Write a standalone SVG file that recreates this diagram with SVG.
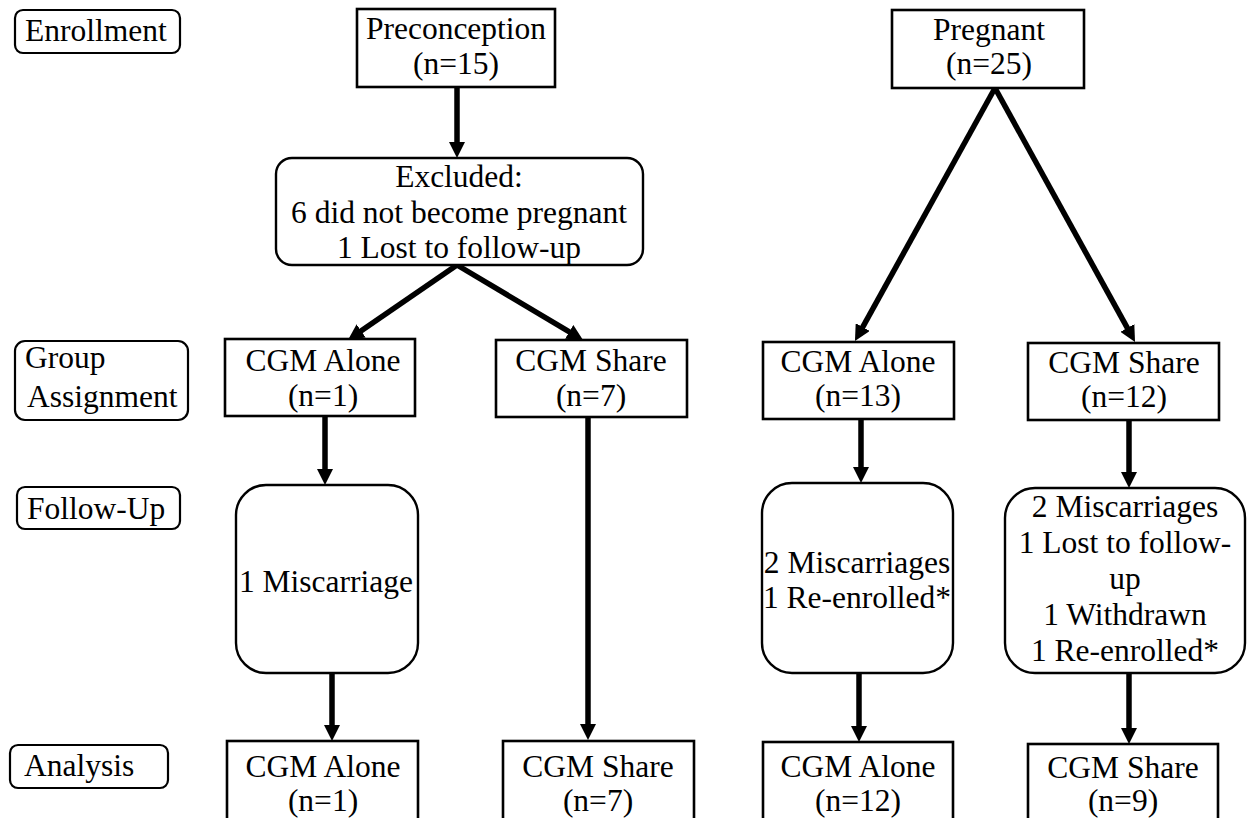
<svg xmlns="http://www.w3.org/2000/svg" width="1250" height="818" viewBox="0 0 1250 818">
<style>
text{font-family:'Liberation Serif','DejaVu Serif',serif;font-size:31.5px;fill:#000}
.c{text-anchor:middle}
.box{fill:#fff;stroke:#000;stroke-width:2.6}
.rbox{fill:#fff;stroke:#000;stroke-width:2.4}
.lab{fill:#fff;stroke:#000;stroke-width:2.2}
.arr{fill:none;stroke:#000;stroke-width:5.5;marker-end:url(#ah)}
</style>
<defs>
<marker id="ah" markerUnits="userSpaceOnUse" viewBox="0 0 16 16" markerWidth="16" markerHeight="16" refX="6" refY="8" orient="auto">
<path d="M0,0 L16,8 L0,16 z" fill="#000"/>
</marker>
</defs>
<rect width="1250" height="818" fill="#fff"/>
<g id="connectors">
<path class="arr" d="M457,87 L457,148"/>
<path class="arr" d="M457,265 L356.2,334.3"/>
<path class="arr" d="M457,265 L574.4,334.9"/>
<path class="arr" d="M995,88 L859.8,332.3"/>
<path class="arr" d="M995,88 L1130.2,333.2"/>
<path class="arr" d="M325,417 L325,475"/>
<path class="arr" d="M588,417 L588,730"/>
<path class="arr" d="M861,419 L861,473"/>
<path class="arr" d="M1129,420 L1129,478"/>
<path class="arr" d="M332,673 L332,731"/>
<path class="arr" d="M859,673 L859,732"/>
<path class="arr" d="M1129,673 L1129,734"/>
</g>
<g id="label-enrollment"><rect class="lab" x="15" y="10" width="165" height="43" rx="8"/><text x="25" y="41">Enrollment</text></g>
<g id="label-group"><rect class="lab" x="15" y="341" width="173" height="79" rx="10"/><text x="25" y="368">Group</text><text x="27" y="407">Assignment</text></g>
<g id="label-followup"><rect class="lab" x="17" y="487" width="163" height="42" rx="8"/><text x="27" y="519">Follow-Up</text></g>
<g id="label-analysis"><rect class="lab" x="10" y="745" width="158" height="43" rx="8"/><text x="24" y="776">Analysis</text></g>
<g id="preconception"><rect class="box" x="357" y="9" width="198" height="78"/><text class="c" x="456" y="39">Preconception</text><text class="c" x="456" y="74">(n=15)</text></g>
<g id="pregnant"><rect class="box" x="892" y="10" width="192" height="78"/><text class="c" x="989" y="40">Pregnant</text><text class="c" x="989" y="74">(n=25)</text></g>
<g id="excluded"><rect class="rbox" x="276" y="158" width="367" height="107" rx="16"/><text class="c" x="459" y="187">Excluded:</text><text class="c" x="459" y="223">6 did not become pregnant</text><text class="c" x="459" y="258">1 Lost to follow-up</text></g>
<g id="pre-alone"><rect class="box" x="225" y="339" width="190" height="77"/><text class="c" x="323" y="371">CGM Alone</text><text class="c" x="323" y="406">(n=1)</text></g>
<g id="pre-share"><rect class="box" x="496" y="340" width="191" height="77"/><text class="c" x="591" y="371">CGM Share</text><text class="c" x="591" y="406">(n=7)</text></g>
<g id="preg-alone"><rect class="box" x="763" y="342" width="191" height="77"/><text class="c" x="858" y="372">CGM Alone</text><text class="c" x="858" y="406">(n=13)</text></g>
<g id="preg-share"><rect class="box" x="1028" y="343" width="191" height="77"/><text class="c" x="1124" y="373">CGM Share</text><text class="c" x="1124" y="407">(n=12)</text></g>
<g id="fu-pre-alone"><rect class="rbox" x="236" y="485" width="182" height="188" rx="30"/><text class="c" x="326" y="592">1 Miscarriage</text></g>
<g id="fu-preg-alone"><rect class="rbox" x="762" y="483" width="191" height="190" rx="30"/><text class="c" x="857" y="573">2 Miscarriages</text><text class="c" x="857" y="608">1 Re-enrolled*</text></g>
<g id="fu-preg-share"><rect class="rbox" x="1005" y="488" width="240" height="185" rx="30"/><text class="c" x="1125" y="517">2 Miscarriages</text><text class="c" x="1125" y="553">1 Lost to follow-</text><text class="c" x="1125" y="589">up</text><text class="c" x="1125" y="625">1 Withdrawn</text><text class="c" x="1125" y="661">1 Re-enrolled*</text></g>
<g id="an-pre-alone"><rect class="box" x="227" y="741" width="191" height="82"/><text class="c" x="323" y="777">CGM Alone</text><text class="c" x="323" y="811">(n=1)</text></g>
<g id="an-pre-share"><rect class="box" x="503" y="741" width="191" height="82"/><text class="c" x="598" y="777">CGM Share</text><text class="c" x="598" y="811">(n=7)</text></g>
<g id="an-preg-alone"><rect class="box" x="763" y="742" width="190" height="82"/><text class="c" x="858" y="777">CGM Alone</text><text class="c" x="858" y="811">(n=12)</text></g>
<g id="an-preg-share"><rect class="box" x="1028" y="744" width="190" height="82"/><text class="c" x="1123" y="778">CGM Share</text><text class="c" x="1123" y="811">(n=9)</text></g>
</svg>
